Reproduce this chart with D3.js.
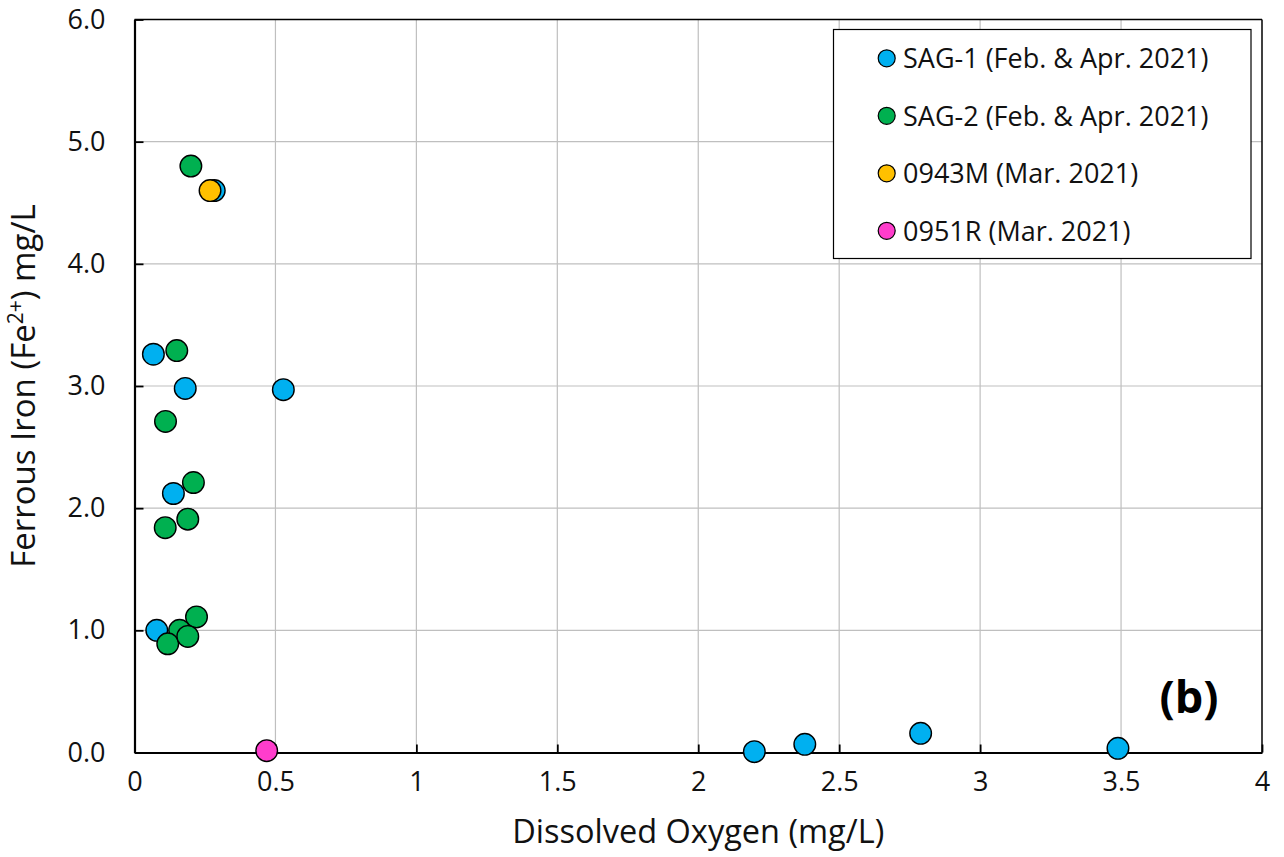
<!DOCTYPE html>
<html>
<head>
<meta charset="utf-8">
<script src="https://cdn.jsdelivr.net/npm/d3@7"></script>
<style>
  html, body { margin: 0; padding: 0; background: #fff; }
  svg { display: block; font-family: "Open Sans", "Noto Sans", sans-serif; }
</style>
</head>
<body>
<svg id="chart" width="1284" height="857"></svg>
<script>
// ---- Data ----
const seriesNames = ["SAG-1 (Feb. & Apr. 2021)", "SAG-2 (Feb. & Apr. 2021)", "0943M (Mar. 2021)", "0951R (Mar. 2021)"];
const seriesColors = ["#00B0F0", "#00B050", "#FFC000", "#FF3DCC"];

const sag1DO = [0.283, 0.067, 0.180, 0.528, 0.138, 0.079, 2.199, 2.378, 2.789, 3.489];
const sag1Fe = [4.60, 3.26, 2.98, 2.97, 2.12, 1.00, 0.007, 0.067, 0.157, 0.034];

const sag2DO = [0.200, 0.150, 0.110, 0.209, 0.109, 0.189, 0.220, 0.160, 0.118, 0.189];
const sag2Fe = [4.80, 3.29, 2.71, 2.21, 1.84, 1.91, 1.11, 1.00, 0.89, 0.95];

const m0943DO = [0.268];
const m0943Fe = [4.60];

const r0951DO = [0.469];
const r0951Fe = [0.015];

const xTicks = [0, 0.5, 1, 1.5, 2, 2.5, 3, 3.5, 4];
const yTicks = [0, 1, 2, 3, 4, 5, 6];

const xTitle = "Dissolved Oxygen (mg/L)";
const panelLabel = "(b)";

// ---- Layout ----
const svg = d3.select("#chart");
const L = 134.5, T = 19.5, R = 1262, B = 752.5;

const x = d3.scaleLinear().domain([0, 4]).range([L, R]);
const y = d3.scaleLinear().domain([0, 6]).range([B, T]);

// gridlines
const grid = svg.append("g");
grid.selectAll("line.vx").data(xTicks.filter(d => d > 0 && d < 4)).join("line")
  .attr("x1", d => x(d)).attr("x2", d => x(d)).attr("y1", T).attr("y2", B)
  .attr("stroke", "#bfbfbf").attr("stroke-width", 1.2);
grid.selectAll("line.hy").data(yTicks.filter(d => d > 0 && d < 6)).join("line")
  .attr("x1", L).attr("x2", R).attr("y1", d => y(d)).attr("y2", d => y(d))
  .attr("stroke", "#bfbfbf").attr("stroke-width", 1.2);

// frame (top/right)
svg.append("line").attr("x1", L).attr("x2", R).attr("y1", T).attr("y2", T).attr("stroke", "#000").attr("stroke-width", 1.5);
svg.append("line").attr("x1", R).attr("x2", R).attr("y1", T).attr("y2", B).attr("stroke", "#000").attr("stroke-width", 1.5);

// axes
const xAxis = d3.axisBottom(x).tickValues(xTicks).tickSizeInner(-8).tickSizeOuter(0).tickPadding(22)
  .tickFormat(d => d3.format("")(d));
const gx = svg.append("g").attr("transform", `translate(0,${B})`).call(xAxis);
gx.select(".domain").attr("stroke", "#000").attr("stroke-width", 2.2);
gx.selectAll(".tick line").attr("stroke", "#000").attr("stroke-width", 1.8);
gx.selectAll(".tick text").attr("font-size", 27).attr("fill", "#111")
  .attr("font-family", "'Open Sans', sans-serif").attr("dy", "0.62em");

const yAxis = d3.axisLeft(y).tickValues(yTicks).tickSizeInner(-9).tickSizeOuter(0).tickPadding(29)
  .tickFormat(d3.format(".1f"));
const gy = svg.append("g").attr("transform", `translate(${L},0)`).call(yAxis);
gy.select(".domain").attr("stroke", "#000").attr("stroke-width", 2.2);
gy.selectAll(".tick line").attr("stroke", "#000").attr("stroke-width", 1.8);
gy.selectAll(".tick text").attr("font-size", 27).attr("fill", "#111")
  .attr("font-family", "'Open Sans', sans-serif");

// axis titles
svg.append("text").attr("x", (L + R) / 2).attr("y", 843).attr("text-anchor", "middle")
  .attr("font-size", 32.5).attr("fill", "#111").text(xTitle);

const yt = svg.append("text").attr("transform", `translate(35,${(T + B) / 2}) rotate(-90)`)
  .attr("text-anchor", "middle").attr("font-size", 33).attr("fill", "#111");
yt.append("tspan").text("Ferrous Iron (Fe");
yt.append("tspan").attr("dy", -12).attr("font-size", 21).text("2+");
yt.append("tspan").attr("dy", 12).text(") mg/L");

// points
const series = [
  { name: seriesNames[0], color: seriesColors[0], xs: sag1DO, ys: sag1Fe },
  { name: seriesNames[1], color: seriesColors[1], xs: sag2DO, ys: sag2Fe },
  { name: seriesNames[2], color: seriesColors[2], xs: m0943DO, ys: m0943Fe },
  { name: seriesNames[3], color: seriesColors[3], xs: r0951DO, ys: r0951Fe }
];
series.forEach(s => {
  svg.append("g").selectAll("circle").data(s.xs.map((v, i) => [v, s.ys[i]])).join("circle")
    .attr("cx", d => x(d[0])).attr("cy", d => y(d[1])).attr("r", 10.8)
    .attr("fill", s.color).attr("stroke", "#000").attr("stroke-width", 1.4);
});

// legend
const lg = svg.append("g");
lg.append("rect").attr("x", 833.5).attr("y", 29.5).attr("width", 417.5).attr("height", 229)
  .attr("fill", "#fff").attr("stroke", "#000").attr("stroke-width", 1.2);
series.forEach((s, i) => {
  const cy = 58.3 + i * 57.5;
  lg.append("circle").attr("cx", 886.7).attr("cy", cy).attr("r", 8.5)
    .attr("fill", s.color).attr("stroke", "#000").attr("stroke-width", 1.2);
  lg.append("text").attr("x", 903).attr("y", cy).attr("dy", "0.36em")
    .attr("font-size", 27).attr("fill", "#111").text(s.name);
});

// panel label
svg.append("text").attr("x", 1189).attr("y", 713).attr("text-anchor", "middle")
  .attr("font-size", 45).attr("font-weight", "bold").attr("fill", "#000").text(panelLabel);
</script>
</body>
</html>
